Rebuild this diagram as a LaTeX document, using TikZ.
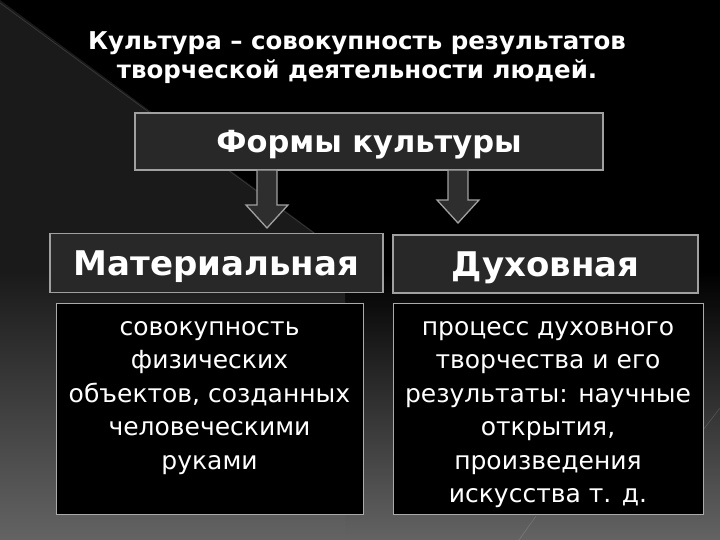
\documentclass[tikz,border=0pt]{standalone}
\usepackage{fontspec}
\setmainfont{DejaVu Sans}
\usetikzlibrary{fadings}
\definecolor{boxfill}{HTML}{282828}
\definecolor{boxline}{HTML}{A0A0A0}
\definecolor{arrfill}{HTML}{2E2E2E}
\definecolor{bgleft}{HTML}{1A1A1A}
\definecolor{bgbottom}{HTML}{646464}
\tikzset{
  headbox/.style={draw=boxline, line width=1.6pt, fill=boxfill, text=white, inner sep=0pt, text depth=0pt},
  descbox/.style={draw=boxline!90, line width=0.9pt, fill=black, inner sep=0pt},
  desctext/.style={anchor=north, text=white, align=center, inner sep=0pt, font=\fontsize{25}{33.5}\selectfont},
  arr/.style={draw=boxline, line width=1.3pt, fill=arrfill},
  faint/.style={draw=white, opacity=0.12, line width=0.8pt},
  pics/downarrow/.style={code={
    \draw[arr] (-10,0) -- (-10,#1) -- (-21,#1) -- (0,#1+23) -- (21,#1) -- (10,#1) -- (10,0) -- cycle;}}
}
\begin{document}
\begin{tikzpicture}[x=1pt,y=-1pt]
\useasboundingbox (0,0) rectangle (720,540);
% background
\fill[black] (0,0) rectangle (720,540);
\fill[bgleft] (0,0) -- (345,255) -- (345,540) -- (0,540) -- cycle;
\fill[bgbottom, path fading=north] (0,270) rectangle (720,540);
\draw[faint] (0,3) -- (318,236);
\draw[faint] (720,408) -- (703,430);
\draw[faint] (519,540) -- (536,516);
% title
\node[text=white, font=\fontsize{24.5}{29}\selectfont\bfseries, align=center] (title) at (357,58)
  {Культура – совокупность результатов\\творческой деятельности людей.};
% forms box
\node[headbox, minimum width=468pt, minimum height=57pt, font=\fontsize{30.5}{34}\selectfont\bfseries] (forms) at (369,141.5) {Формы культуры};
% arrows
\coordinate (la) at (267,170);
\coordinate (ra) at (458,170);
\pic at (la) {downarrow=35};
\pic at (ra) {downarrow=30};
% category boxes
\node[headbox, minimum width=333pt, minimum height=59pt, font=\fontsize{34}{40}\selectfont\bfseries] (mat) at (216.5,263) {Материальная};
\node[headbox, minimum width=305pt, minimum height=58pt, font=\fontsize{34}{40}\selectfont\bfseries] (spir) at (545.5,264) {Духовная};
% description boxes
\node[descbox, minimum width=307pt, minimum height=211pt, anchor=north] (matd) at (209.5,303) {};
\node[desctext] (matt) at ([yshift=-18pt]matd.north)
  {совокупность\\физических\\объектов, созданных\\человеческими\\руками};
\node[descbox, minimum width=310pt, minimum height=211pt, anchor=north] (spird) at (548,303) {};
\node[desctext] (spirt) at ([yshift=-18pt]spird.north)
  {процесс духовного\\творчества и его\\результаты: научные\\открытия,\\произведения\\искусства т. д.};
\end{tikzpicture}
\end{document}
